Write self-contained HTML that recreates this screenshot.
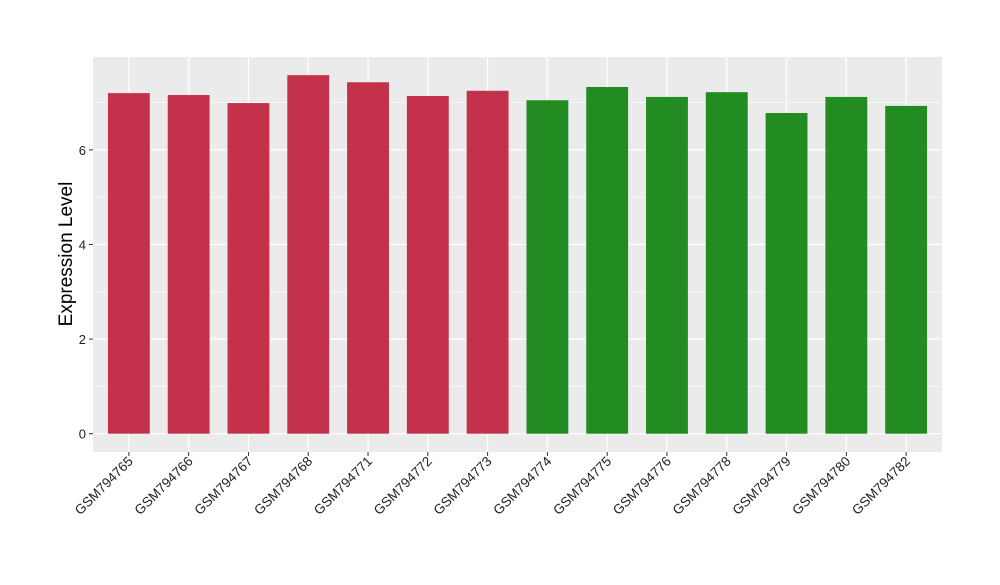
<!DOCTYPE html>
<html><head><meta charset="utf-8"><style>
body{margin:0;background:#fff;font-family:"Liberation Sans",Arial,sans-serif}
</style></head><body>
<svg id="chart" width="1000" height="580" xmlns="http://www.w3.org/2000/svg">
<rect x="93" y="57" width="849" height="395" fill="#ebebeb"/>
<g id="grid"></g><g id="bars"></g><g id="axes"></g>
<text transform="translate(72,254) rotate(-90)" text-anchor="middle" font-size="19" fill="#000">Expression Level</text>
</svg>
<script>
const categories=["GSM794765","GSM794766","GSM794767","GSM794768","GSM794771","GSM794772","GSM794773","GSM794774","GSM794775","GSM794776","GSM794778","GSM794779","GSM794780","GSM794782"];
const values=[7.20,7.16,6.99,7.58,7.43,7.14,7.25,7.05,7.33,7.12,7.22,6.78,7.12,6.93];
const groups=["a","a","a","a","a","a","a","b","b","b","b","b","b","b"];
const yTicks=[0,2,4,6];
const colors={a:"#c3314a",b:"#228b22"};
const NS="http://www.w3.org/2000/svg";
const L=93,R=942,T=57,B=452;
const y0=433.7,unit=47.3;
function y(v){return y0-v*unit;}
const step=(R-L)/(categories.length-1+1.2);
function x(i){return L+step*(0.6+i);}
function mk(p,t,a){const e=document.createElementNS(NS,t);for(const k in a)e.setAttribute(k,a[k]);document.getElementById(p).appendChild(e);return e;}
// minor grid
for(let v=1;v<8;v+=2){if(y(v)<T)continue;
const g=mk("grid","line",{x1:L,x2:R,y1:y(v),y2:y(v),stroke:"#fff","stroke-width":0.6});

}
yTicks.forEach(v=>{
const g=mk("grid","line",{x1:L,x2:R,y1:y(v),y2:y(v),stroke:"#fff","stroke-width":1.2});


const tk=mk("axes","line",{x1:L-4,x2:L,y1:y(v),y2:y(v),stroke:"#333","stroke-width":1});


const t=mk("axes","text",{x:L-7,y:y(v)+5,"text-anchor":"end","font-size":"13",fill:"#222"});
t.textContent=v;


});
const bw=step*0.7;
categories.forEach((c,i)=>{
const g=mk("grid","line",{x1:x(i),x2:x(i),y1:T,y2:B,stroke:"#fff","stroke-width":1.2});


const b=mk("bars","rect",{x:x(i)-bw/2,y:y(values[i]),width:bw,height:y(0)-y(values[i]),fill:colors[groups[i]]});


const tk=mk("axes","line",{x1:x(i),x2:x(i),y1:B,y2:B+4,stroke:"#333","stroke-width":1});


const t=mk("axes","text",{transform:`translate(${x(i)+5},${B+10}) rotate(-45)`,"text-anchor":"end","font-size":"13.5",fill:"#222"});
t.textContent=c;


});
</script>
</body></html>
